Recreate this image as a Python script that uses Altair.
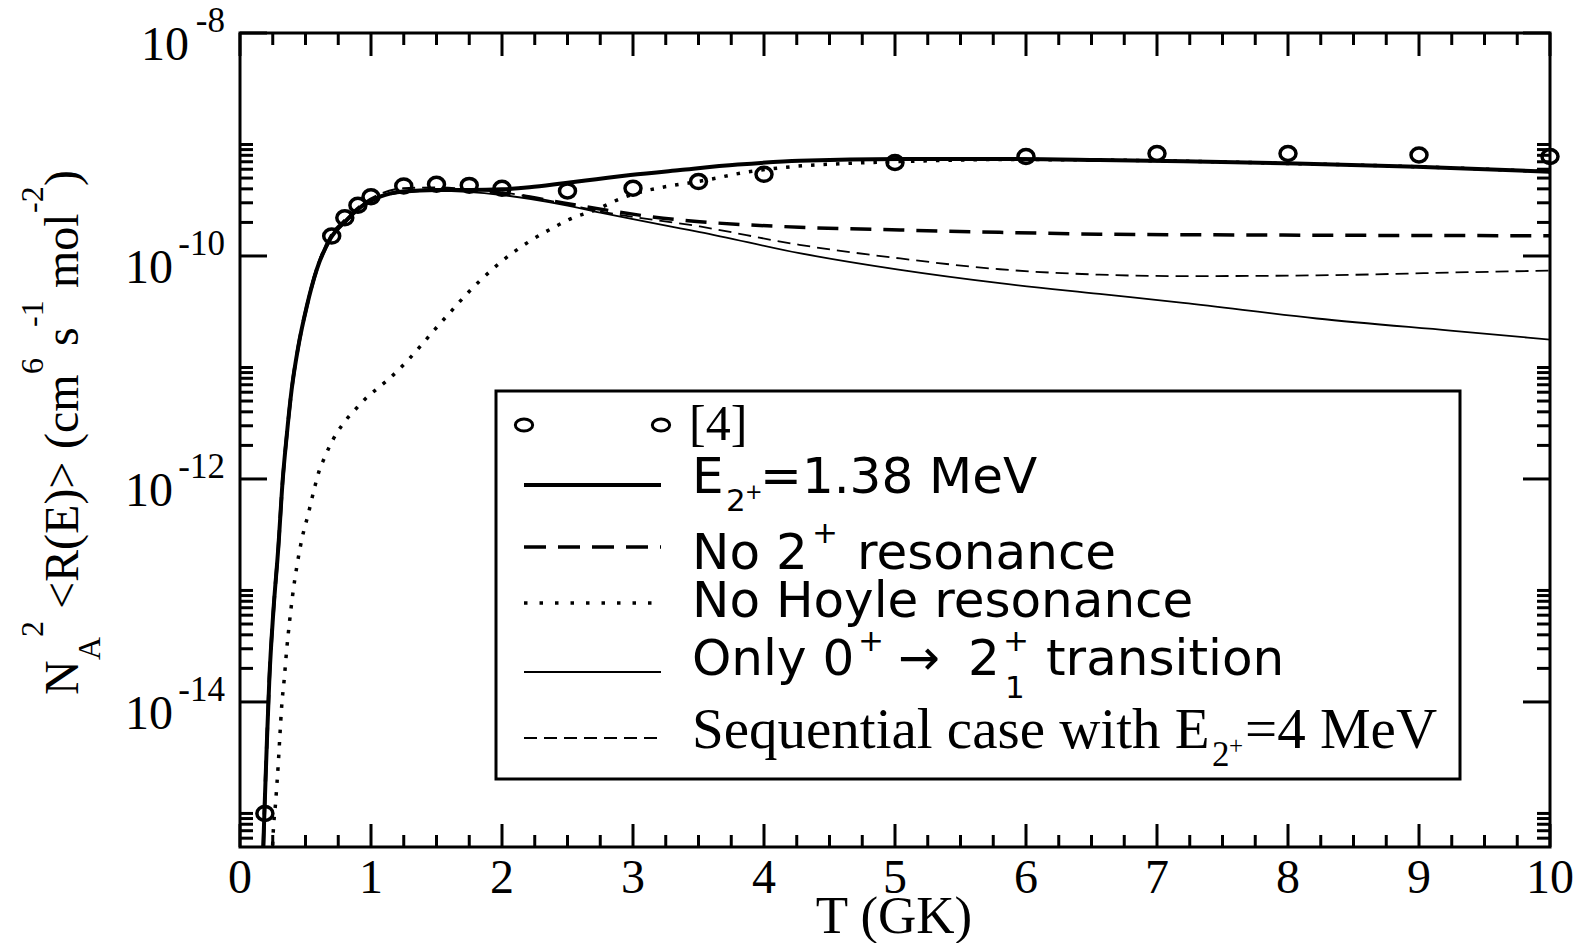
import altair as alt
import pandas as pd

# ---------------- values ----------------
# reference points [4]
T_REF = [0.19, 0.7, 0.8, 0.9, 1.0, 1.25, 1.5, 1.75, 2.0, 2.5, 3.0, 3.5, 4.0, 5.0, 6.0, 7.0, 8.0, 9.0, 10.0]
R_REF = [1.0e-15, 1.51e-10, 2.2e-10, 2.85e-10, 3.4e-10, 4.25e-10, 4.4e-10, 4.3e-10, 4.05e-10, 3.83e-10,
         4.05e-10, 4.65e-10, 5.4e-10, 6.9e-10, 7.8e-10, 8.3e-10, 8.3e-10, 8.05e-10, 7.8e-10]

# E2+ = 1.38 MeV (thick solid)
T_FULL = [0.17, 0.186, 0.204, 0.224, 0.254, 0.293, 0.326, 0.356, 0.394, 0.445, 0.509, 0.585, 0.687,
          0.814, 0.941, 1.069, 1.247, 1.5, 1.756, 2.0, 2.21, 2.47, 2.72, 2.98, 3.36, 3.8, 4.27, 5.04,
          5.8, 6.56, 7.2, 7.96, 8.98, 10.0]
R_FULL = [2.5e-16, 1.0e-15, 4.0e-15, 1.6e-14, 6.3e-14, 2.47e-13, 9.8e-13, 2.4e-12, 6.3e-12, 1.54e-11,
          3.5e-11, 7.5e-11, 1.41e-10, 2.1e-10, 2.86e-10, 3.4e-10, 3.78e-10, 3.9e-10, 3.9e-10, 3.96e-10,
          4.13e-10, 4.49e-10, 4.88e-10, 5.32e-10, 5.9e-10, 6.6e-10, 7.16e-10, 7.41e-10, 7.41e-10,
          7.26e-10, 7.08e-10, 6.78e-10, 6.32e-10, 5.7e-10]

# No 2+ resonance (thick dashed)
T_NO2 = [0.17, 0.186, 0.204, 0.224, 0.254, 0.293, 0.326, 0.356, 0.394, 0.445, 0.509, 0.585, 0.687,
         0.814, 0.941, 1.069, 1.247, 1.5, 1.75, 2.0, 2.47, 2.72, 3.23, 3.51, 4.27, 5.04, 5.8, 6.56,
         7.96, 10.0]
R_NO2 = [2.5e-16, 1.0e-15, 4.0e-15, 1.6e-14, 6.3e-14, 2.47e-13, 9.8e-13, 2.4e-12, 6.3e-12, 1.54e-11,
         3.5e-11, 7.5e-11, 1.41e-10, 2.1e-10, 2.86e-10, 3.4e-10, 3.78e-10, 3.9e-10, 3.88e-10, 3.67e-10,
         2.99e-10, 2.67e-10, 2.18e-10, 2.03e-10, 1.81e-10, 1.71e-10, 1.63e-10, 1.57e-10, 1.54e-10,
         1.52e-10]

# No Hoyle resonance (dotted)
T_NOH = [0.245, 0.254, 0.272, 0.293, 0.305, 0.318, 0.338, 0.356, 0.377, 0.402, 0.433, 0.471, 0.522,
         0.573, 0.603, 0.641, 0.687, 0.738, 0.802, 0.878, 0.954, 1.043, 1.132, 1.221, 1.298, 1.374,
         1.445, 1.522, 1.598, 1.674, 1.751, 1.832, 1.921, 2.01, 2.2, 2.405, 2.514, 2.735, 2.86, 3.09,
         3.21, 3.56, 3.84, 4.21, 4.53, 4.86, 5.29, 5.8, 6.56, 7.2, 7.96, 8.98, 10.0]
R_NOH = [4.0e-16, 6.9e-16, 1.26e-15, 2.9e-15, 5.1e-15, 9.1e-15, 1.62e-14, 2.9e-14, 5.1e-14, 9.1e-14,
         1.62e-13, 2.84e-13, 4.9e-13, 8.7e-13, 1.17e-12, 1.51e-12, 2.0e-12, 2.57e-12, 3.3e-12, 4.17e-12,
         5.2e-12, 6.4e-12, 7.8e-12, 9.8e-12, 1.22e-11, 1.54e-11, 1.92e-11, 2.44e-11, 3.06e-11, 3.86e-11,
         4.82e-11, 6.0e-11, 7.5e-11, 9.2e-11, 1.33e-10, 1.83e-10, 2.13e-10, 2.65e-10, 3.11e-10, 3.83e-10,
         4.1e-10, 4.8e-10, 5.58e-10, 6.32e-10, 6.68e-10, 6.92e-10, 7.16e-10, 7.33e-10, 7.26e-10, 7.08e-10,
         6.78e-10, 6.32e-10, 5.7e-10]

# Only 0+ -> 2+_1 transition (thin solid)
T_ONLY = [0.17, 0.186, 0.204, 0.224, 0.254, 0.293, 0.326, 0.356, 0.394, 0.445, 0.509, 0.585, 0.687,
          0.814, 0.941, 1.069, 1.247, 1.5, 2.0, 2.47, 2.75, 2.98, 3.36, 3.51, 4.27, 5.04, 5.8, 6.56,
          7.2, 8.22, 9.24, 10.0]
R_ONLY = [2.5e-16, 1.0e-15, 4.0e-15, 1.6e-14, 6.3e-14, 2.47e-13, 9.8e-13, 2.4e-12, 6.3e-12, 1.54e-11,
          3.5e-11, 7.5e-11, 1.41e-10, 2.1e-10, 2.86e-10, 3.4e-10, 3.75e-10, 3.83e-10, 3.52e-10, 2.88e-10,
          2.45e-10, 2.16e-10, 1.77e-10, 1.64e-10, 1.06e-10, 7.5e-11, 5.7e-11, 4.57e-11, 3.8e-11,
          2.75e-11, 2.14e-11, 1.78e-11]

# Sequential case with E2+ = 4 MeV (thin dashed)
T_SEQ = [0.17, 0.186, 0.204, 0.224, 0.254, 0.293, 0.326, 0.356, 0.394, 0.445, 0.509, 0.585, 0.687,
         0.814, 0.941, 1.069, 1.247, 1.5, 1.75, 2.0, 2.47, 2.75, 3.51, 4.27, 5.04, 5.8, 6.56, 7.2,
         8.22, 9.24, 10.0]
R_SEQ = [2.5e-16, 1.0e-15, 4.0e-15, 1.6e-14, 6.3e-14, 2.47e-13, 9.8e-13, 2.4e-12, 6.3e-12, 1.54e-11,
         3.7e-11, 7.9e-11, 1.5e-10, 2.2e-10, 2.98e-10, 3.6e-10, 4.05e-10, 4.12e-10, 3.98e-10, 3.72e-10,
         2.95e-10, 2.51e-10, 1.84e-10, 1.26e-10, 9.5e-11, 7.6e-11, 6.8e-11, 6.6e-11, 6.7e-11, 7.1e-11,
         7.4e-11]

# axis ticks and labels
X_MAJOR = [0, 1, 2, 3, 4, 5, 6, 7, 8, 9, 10]
X_MINOR = [q / 4 for q in range(41) if q % 4 != 0]
Y_MAJOR = [1e-8, 1e-10, 1e-12, 1e-14]
Y_EXP = ["-8", "-10", "-12", "-14"]
Y_MINOR = ([k * 1e-10 for k in range(2, 11)] + [k * 1e-12 for k in range(2, 11)] +
           [k * 1e-14 for k in range(2, 11)] + [k * 1e-16 for k in range(6, 11)])

# ---------------- layout ----------------
W, H = 1310, 814
LEFT, TOP = 240, 33
SERIF = "Liberation Serif"
SANS = "DejaVu Sans"
BLACK = "black"

xs = alt.Scale(domain=[0, 10], nice=False, zero=False)
ys = alt.Scale(type="log", domain=[5e-16, 1e-8], nice=False)

ELL_PLOT = "M-1,0A1,0.87,0,1,0,1,0A1,0.87,0,1,0,-1,0Z"
ELL_LEG = "M-1,0A1,0.7,0,1,0,1,0A1,0.7,0,1,0,-1,0Z"

ONE = pd.DataFrame({"k": [0]})


def curve(T, R, width, dash=None):
    kw = dict(color=BLACK, strokeWidth=width, clip=True, interpolate="monotone")
    if dash:
        kw["strokeDash"] = dash
    return alt.Chart(pd.DataFrame({"T": T, "R": R})).mark_line(**kw).encode(
        x=alt.X("T:Q", scale=xs, axis=None),
        y=alt.Y("R:Q", scale=ys, axis=None))


def text(s, x, y, size, font, angle=0, align="left"):
    kw = dict(font=font, fontSize=size, align=align, baseline="alphabetic", color=BLACK)
    if angle:
        kw["angle"] = angle
    return alt.Chart(pd.DataFrame({"s": [s]})).mark_text(**kw).encode(
        x=alt.value(x - LEFT), y=alt.value(y - TOP), text="s:N")


def seg(x1, x2, y, width, dash=None):
    kw = dict(color=BLACK, strokeWidth=width)
    if dash:
        kw["strokeDash"] = dash
    return alt.Chart(ONE).mark_rule(**kw).encode(
        x=alt.value(x1 - LEFT), x2=alt.value(x2 - LEFT), y=alt.value(y - TOP))


layers = []

# curves
layers.append(curve(T_SEQ, R_SEQ, 1.8, [13, 7]))
layers.append(curve(T_ONLY, R_ONLY, 1.8))
layers.append(curve(T_NO2, R_NO2, 3.5, [21, 12]))
layers.append(curve(T_NOH, R_NOH, 3.5, [3.5, 9]))
layers.append(curve(T_FULL, R_FULL, 4))

# reference points
layers.append(alt.Chart(pd.DataFrame({"T": T_REF, "R": R_REF})).mark_point(
    shape=ELL_PLOT, size=256, filled=False, stroke=BLACK, strokeWidth=3.5, opacity=1).encode(
    x=alt.X("T:Q", scale=xs, axis=None), y=alt.Y("R:Q", scale=ys, axis=None)))

# inward ticks
for vals, ln in [(X_MAJOR, 23), (X_MINOR, 12)]:
    base = alt.Chart(pd.DataFrame({"v": vals})).mark_rule(color=BLACK, strokeWidth=3)
    layers.append(base.encode(x=alt.X("v:Q", scale=xs, axis=None), y=alt.value(H), y2=alt.value(H - ln)))
    layers.append(base.encode(x=alt.X("v:Q", scale=xs, axis=None), y=alt.value(0), y2=alt.value(ln)))
for vals, ln in [(Y_MAJOR, 27), (Y_MINOR, 13)]:
    base = alt.Chart(pd.DataFrame({"v": vals})).mark_rule(color=BLACK, strokeWidth=3)
    layers.append(base.encode(y=alt.Y("v:Q", scale=ys, axis=None), x=alt.value(0), x2=alt.value(ln)))
    layers.append(base.encode(y=alt.Y("v:Q", scale=ys, axis=None), x=alt.value(W), x2=alt.value(W - ln)))

# x tick labels
layers.append(alt.Chart(pd.DataFrame({"v": X_MAJOR, "lab": [str(v) for v in X_MAJOR]})).mark_text(
    font=SERIF, fontSize=48, align="center", baseline="alphabetic", color=BLACK).encode(
    x=alt.X("v:Q", scale=xs, axis=None), y=alt.value(893 - TOP), text="lab:N"))

# y tick labels: "10" with superscript exponent
ydf = pd.DataFrame({"v": Y_MAJOR, "e": Y_EXP})
for n, xr in [(2, 189), (3, 173)]:
    sub = ydf[ydf["e"].str.len() == n]
    layers.append(alt.Chart(sub).mark_text(
        font=SERIF, fontSize=48, align="right", baseline="alphabetic", dy=27, color=BLACK).encode(
        x=alt.value(xr - LEFT), y=alt.Y("v:Q", scale=ys, axis=None), text=alt.value("10")))
layers.append(alt.Chart(ydf).mark_text(
    font=SERIF, fontSize=35, align="right", baseline="alphabetic", dy=-1, color=BLACK).encode(
    x=alt.value(225 - LEFT), y=alt.Y("v:Q", scale=ys, axis=None), text="e:N"))

# axis titles
layers.append(text("T (GK)", 894, 933, 53, SERIF, align="center"))
for s, bx, sy, sz in [("N", 78, 695, 48), ("A", 100, 660, 32), ("2", 43, 637, 32),
                      ("<R(E)>", 78, 609, 48), ("(cm", 78, 449, 48), ("6", 43, 374, 32),
                      ("s", 78, 346, 48), ("-1", 43, 327, 32), ("mol", 78, 288, 48),
                      ("-2", 43, 213, 32), (")", 78, 186, 48)]:
    layers.append(text(s, bx, sy, sz, SERIF, angle=270))

# legend box
layers.append(alt.Chart(ONE).mark_rect(fill="white", stroke=BLACK, strokeWidth=3).encode(
    x=alt.value(496 - LEFT), x2=alt.value(1460 - LEFT), y=alt.value(391 - TOP), y2=alt.value(779 - TOP)))

# legend samples
for cx in (524, 661):
    layers.append(alt.Chart(ONE).mark_point(shape=ELL_LEG, size=300, filled=False, stroke=BLACK,
                                            strokeWidth=3, opacity=1).encode(
        x=alt.value(cx - LEFT), y=alt.value(425 - TOP)))
layers.append(seg(524, 661, 485, 4))
layers.append(seg(524, 661, 547, 3.5, [22, 12]))
layers.append(seg(524, 661, 603, 3.5, [3.5, 12]))
layers.append(seg(524, 661, 672, 1.8))
layers.append(seg(524, 661, 738, 1.8, [13, 7]))

# legend labels
LEG = [
    ("[4]", 689, 440, 50, SERIF),
    ("E", 692, 493, 50, SANS), ("2", 726, 511, 31, SANS), ("+", 745, 499, 21, SANS),
    ("=1.38 MeV", 760, 493, 50, SANS),
    ("No 2", 692, 569, 50, SANS), ("+", 812, 543, 31, SANS), ("resonance", 857, 569, 50, SANS),
    ("No Hoyle resonance", 692, 617, 50, SANS),
    ("Only 0", 692, 675, 50, SANS), ("+", 858, 651, 31, SANS), ("\u2192", 898, 675, 50, SANS),
    ("2", 968, 675, 50, SANS), ("+", 1003, 651, 31, SANS), ("1", 1005, 698, 31, SANS),
    ("transition", 1046, 675, 50, SANS),
    ("Sequential case with E", 692, 748, 57, SERIF), ("2", 1212, 766, 35, SERIF),
    ("+", 1229, 754, 25, SERIF), ("=4 MeV", 1245, 748, 57, SERIF),
]
for s, x, y, sz, f in LEG:
    layers.append(text(s, x, y, sz, f))

chart = alt.layer(*layers).properties(
    width=W, height=H,
    autosize=alt.AutoSizeParams(type="none"),
    padding={"left": LEFT, "top": TOP, "right": 1585 - LEFT - W, "bottom": 943 - TOP - H},
    background="white",
).configure_view(stroke=BLACK, strokeWidth=3)

chart.save("out.html", embed_options={"renderer": "svg", "actions": False})
